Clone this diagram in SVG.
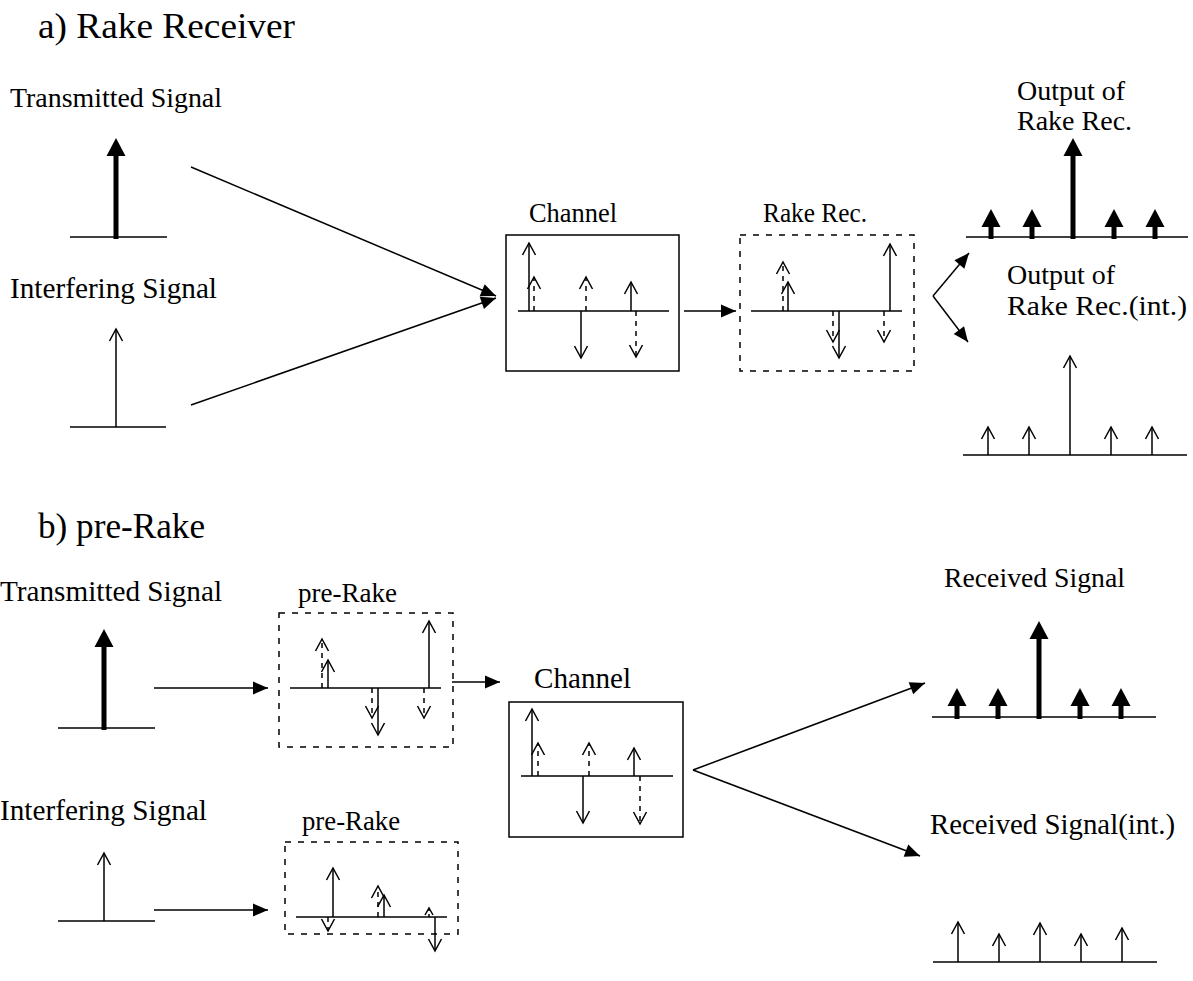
<svg xmlns="http://www.w3.org/2000/svg" width="1193" height="981" viewBox="0 0 1193 981">
<style>
text{font-family:"Liberation Serif","Times New Roman",serif;font-size:28px;fill:#000}
.h{font-size:36px}
.b{font-size:29px}
.ln{stroke:#000;stroke-width:1.5;fill:none}
.th{stroke:#000;stroke-width:5;fill:none;marker-end:url(#fh)}
.tn{stroke:#000;stroke-width:1.5;fill:none;marker-end:url(#ov)}
.ds{stroke:#000;stroke-width:1.5;fill:none;stroke-dasharray:5,5;marker-end:url(#ov)}
.box{stroke:#000;stroke-width:1.5;fill:none}
.dbox{stroke:#000;stroke-width:1.5;fill:none;stroke-dasharray:6,7}
.cn{stroke:#000;stroke-width:1.5;fill:none;marker-end:url(#ca)}
</style>
<defs>
<marker id="ov" markerUnits="userSpaceOnUse" markerWidth="20" markerHeight="20" refX="0" refY="0" orient="auto" overflow="visible"><path d="M-12,-6.5 L0,0 L-12,6.5" fill="none" stroke="#000" stroke-width="1.5" stroke-dasharray="none"/></marker>
<marker id="ovs" markerUnits="userSpaceOnUse" markerWidth="20" markerHeight="20" refX="0" refY="0" orient="auto" overflow="visible"><path d="M-7,-4 L0,0 L-7,4" fill="none" stroke="#000" stroke-width="1.5" stroke-dasharray="none"/></marker>
<marker id="fh" markerUnits="userSpaceOnUse" markerWidth="30" markerHeight="30" refX="0" refY="0" orient="auto" overflow="visible"><path d="M-7,-9.5 L11,0 L-7,9.5 Z" fill="#000" stroke="none"/></marker>
<marker id="ca" markerUnits="userSpaceOnUse" markerWidth="30" markerHeight="30" refX="0" refY="0" orient="auto" overflow="visible"><path d="M-15,-6.5 L0,0 L-15,6.5 Z" fill="#000" stroke="none"/></marker>
</defs>

<text class="h" x="38" y="38" textLength="257" lengthAdjust="spacingAndGlyphs">a) Rake Receiver</text>
<text class="h" x="38" y="538" textLength="167" lengthAdjust="spacingAndGlyphs">b) pre-Rake</text>

<g id="tx-a">
<text x="10" y="107" textLength="212" lengthAdjust="spacingAndGlyphs">Transmitted Signal</text>
<line class="ln" x1="70" y1="237" x2="167" y2="237"/>
<line class="th" x1="116" y1="239" x2="116" y2="149"/>
</g>
<g id="int-a">
<text class="b" x="10" y="298" textLength="207" lengthAdjust="spacingAndGlyphs">Interfering Signal</text>
<line class="ln" x1="70" y1="427" x2="166" y2="427"/>
<line class="tn" x1="116" y1="427" x2="116" y2="329"/>
</g>

<g id="channel-a">
<text x="529" y="222" textLength="88" lengthAdjust="spacingAndGlyphs">Channel</text>
<rect class="box" x="506" y="235" width="173" height="136"/>
<line class="ln" x1="518" y1="311" x2="669" y2="311"/>
<line class="tn" x1="529" y1="311" x2="529" y2="243"/>
<line class="ds" x1="534" y1="311" x2="534" y2="277"/>
<line class="tn" x1="581" y1="311" x2="581" y2="358"/>
<line class="ds" x1="586" y1="311" x2="586" y2="277"/>
<line class="tn" x1="631" y1="311" x2="631" y2="282"/>
<line class="ds" x1="636" y1="311" x2="636" y2="357"/>
</g>

<g id="rake-a">
<text x="763" y="222" textLength="104" lengthAdjust="spacingAndGlyphs">Rake Rec.</text>
<rect class="dbox" x="740" y="235" width="174" height="136"/>
<line class="ln" x1="751" y1="311" x2="902" y2="311"/>
<line class="ds" x1="783" y1="311" x2="783" y2="262"/>
<line class="tn" x1="788" y1="311" x2="788" y2="282"/>
<line class="ds" x1="833" y1="311" x2="833" y2="342"/>
<line class="tn" x1="839" y1="311" x2="839" y2="358"/>
<line class="ds" x1="884" y1="311" x2="884" y2="342"/>
<line class="tn" x1="890" y1="311" x2="890" y2="244"/>
</g>

<g id="out-a">
<text x="1017" y="100">Output of</text>
<text x="1017" y="130">Rake Rec.</text>
<line class="ln" x1="966" y1="237" x2="1188" y2="237"/>
<line class="th" x1="991" y1="239" x2="991" y2="220"/>
<line class="th" x1="1032" y1="239" x2="1032" y2="220"/>
<line class="th" x1="1073" y1="239" x2="1073" y2="149"/>
<line class="th" x1="1114" y1="239" x2="1114" y2="220"/>
<line class="th" x1="1155" y1="239" x2="1155" y2="220"/>
</g>

<g id="outint-a">
<text x="1007" y="284">Output of</text>
<text x="1007" y="315" textLength="180" lengthAdjust="spacingAndGlyphs">Rake Rec.(int.)</text>
<line class="ln" x1="963" y1="455" x2="1187" y2="455"/>
<line class="tn" x1="988" y1="455" x2="988" y2="427"/>
<line class="tn" x1="1029" y1="455" x2="1029" y2="427"/>
<line class="tn" x1="1070" y1="455" x2="1070" y2="356"/>
<line class="tn" x1="1111" y1="455" x2="1111" y2="427"/>
<line class="tn" x1="1152" y1="455" x2="1152" y2="427"/>
</g>

<g id="tx-b">
<text class="b" x="0" y="601" textLength="222" lengthAdjust="spacingAndGlyphs">Transmitted Signal</text>
<line class="ln" x1="58" y1="728" x2="155" y2="728"/>
<line class="th" x1="104" y1="730" x2="104" y2="640"/>
</g>
<g id="int-b">
<text class="b" x="0" y="820" textLength="207" lengthAdjust="spacingAndGlyphs">Interfering Signal</text>
<line class="ln" x1="58" y1="921" x2="155" y2="921"/>
<line class="tn" x1="104" y1="921" x2="104" y2="853"/>
</g>

<g id="prerake-1">
<text x="298" y="602" textLength="99" lengthAdjust="spacingAndGlyphs">pre-Rake</text>
<rect class="dbox" x="279" y="613" width="174" height="134"/>
<line class="ln" x1="290" y1="688" x2="441" y2="688"/>
<line class="ds" x1="322" y1="688" x2="322" y2="639"/>
<line class="tn" x1="328" y1="688" x2="328" y2="660"/>
<line class="ds" x1="372" y1="688" x2="372" y2="718"/>
<line class="tn" x1="378" y1="688" x2="378" y2="735"/>
<line class="ds" x1="424" y1="688" x2="424" y2="718"/>
<line class="tn" x1="429" y1="688" x2="429" y2="621"/>
</g>

<g id="prerake-2">
<text x="302" y="830" textLength="98" lengthAdjust="spacingAndGlyphs">pre-Rake</text>
<rect class="dbox" x="285" y="842" width="173" height="92"/>
<line class="ln" x1="296" y1="917" x2="447" y2="917"/>
<line class="ds" x1="328" y1="917" x2="328" y2="931"/>
<line class="tn" x1="333" y1="917" x2="333" y2="868"/>
<line class="ds" x1="378" y1="917" x2="378" y2="886"/>
<line class="tn" x1="384" y1="917" x2="384" y2="895"/>
<line x1="429" y1="917" x2="429" y2="908" stroke="#000" stroke-width="1.5" stroke-dasharray="3,3" marker-end="url(#ovs)"/>
<line class="tn" x1="435" y1="917" x2="435" y2="951"/>
</g>

<g id="channel-b">
<text class="b" x="534" y="688" textLength="97" lengthAdjust="spacingAndGlyphs">Channel</text>
<rect class="box" x="509" y="702" width="174" height="135"/>
<line class="ln" x1="521" y1="776" x2="673" y2="776"/>
<line class="tn" x1="532" y1="776" x2="532" y2="709"/>
<line class="ds" x1="538" y1="776" x2="538" y2="743"/>
<line class="tn" x1="583" y1="776" x2="583" y2="823"/>
<line class="ds" x1="589" y1="776" x2="589" y2="743"/>
<line class="tn" x1="634" y1="776" x2="634" y2="748"/>
<line class="ds" x1="640" y1="776" x2="640" y2="824"/>
</g>

<g id="rx-b">
<text x="944" y="587" textLength="181" lengthAdjust="spacingAndGlyphs">Received Signal</text>
<line class="ln" x1="932" y1="717" x2="1156" y2="717"/>
<line class="th" x1="957" y1="719" x2="957" y2="699"/>
<line class="th" x1="998" y1="719" x2="998" y2="699"/>
<line class="th" x1="1039" y1="719" x2="1039" y2="632"/>
<line class="th" x1="1080" y1="719" x2="1080" y2="699"/>
<line class="th" x1="1121" y1="719" x2="1121" y2="699"/>
</g>

<g id="rxint-b">
<text class="b" x="930" y="834" textLength="245" lengthAdjust="spacingAndGlyphs">Received Signal(int.)</text>
<line class="ln" x1="933" y1="962" x2="1157" y2="962"/>
<line class="tn" x1="958" y1="962" x2="958" y2="922"/>
<line class="tn" x1="999" y1="962" x2="999" y2="934"/>
<line class="tn" x1="1040" y1="962" x2="1040" y2="923"/>
<line class="tn" x1="1081" y1="962" x2="1081" y2="934"/>
<line class="tn" x1="1122" y1="962" x2="1122" y2="928"/>
</g>

<g id="connectors">
<line class="cn" x1="191" y1="167" x2="496" y2="296"/>
<line class="cn" x1="191" y1="405" x2="496" y2="298"/>
<line class="cn" x1="684" y1="311" x2="736" y2="311"/>
<line class="cn" x1="933" y1="296" x2="969" y2="253"/>
<line class="cn" x1="933" y1="296" x2="968" y2="342"/>
<line class="cn" x1="154" y1="688" x2="268" y2="688"/>
<line class="cn" x1="154" y1="910" x2="268" y2="910"/>
<line class="cn" x1="452" y1="682" x2="500" y2="682"/>
<line class="cn" x1="693" y1="770" x2="925" y2="683"/>
<line class="cn" x1="693" y1="770" x2="920" y2="856"/>
</g>
</svg>
